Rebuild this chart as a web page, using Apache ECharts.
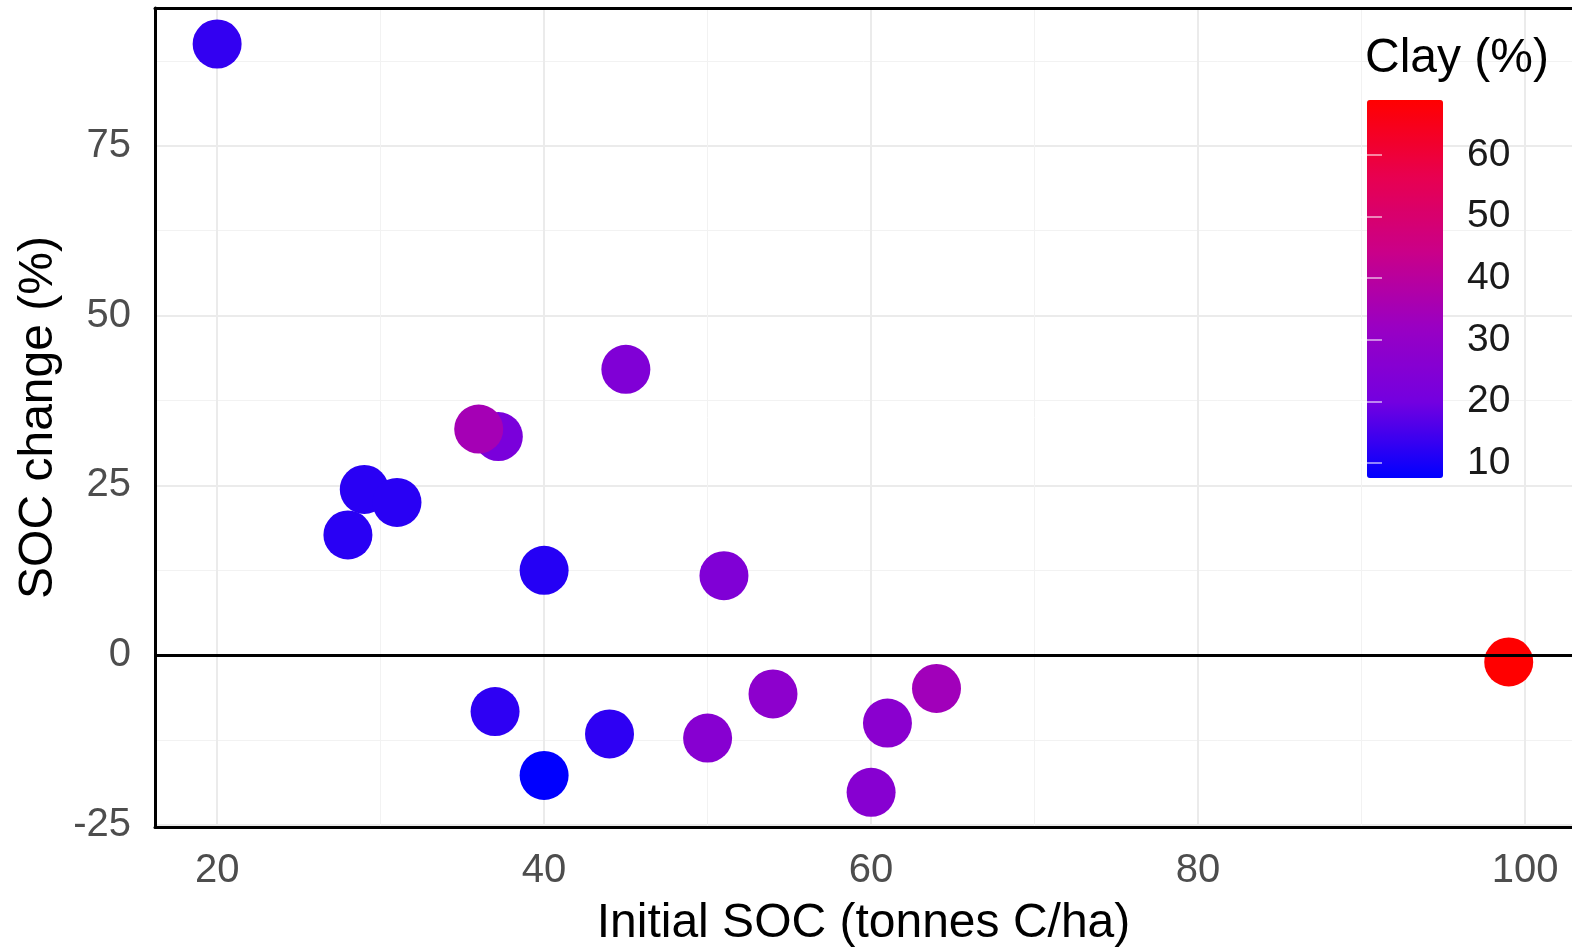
<!DOCTYPE html>
<html>
<head>
<meta charset="utf-8">
<title>SOC change vs initial SOC</title>
<script src="https://cdn.jsdelivr.net/npm/echarts@6/dist/echarts.min.js"></script>
<style>
  html, body { margin: 0; padding: 0; background: #fff; }
  #chart { width: 1572px; height: 948px; }
</style>
</head>
<body>
<div id="chart"></div>
<script>
// values
var initialSoc = [20, 28, 29, 31, 37.2, 36, 45, 40, 51, 99, 37, 40, 44, 50, 54, 60, 61, 64];
var socChange = [90, 17.7, 24.4, 22.5, 32.2, 33.3, 42.1, 12.5, 11.7, -1, -8.3, -17.7, -11.6, -12.2, -5.7, -20.2, -10, -4.9];
var clay = [13, 12, 12, 12, 22, 35, 24, 11.5, 24, 68.9, 12.5, 7.6, 12.5, 26, 28, 26, 27, 34];

var xTicks = [20, 40, 60, 80, 100];
var xMinor = [30, 50, 70, 90];
var yTicks = [-25, 0, 25, 50, 75];
var yMinor = [-12.5, 12.5, 37.5, 62.5, 87.5];
var clayTicks = [10, 20, 30, 40, 50, 60];

// blue -> red, stops approximating ggplot's Lab interpolation
var clayColors = ['#0000ff', '#7300e0', '#9a00c3', '#ca0088', '#e8004f', '#ff0000'];

var points = initialSoc.map(function (x, i) {
  return [x, socChange[i], clay[i]];
});

var font = "'Liberation Sans', Arial, sans-serif";

var chart = echarts.init(document.getElementById('chart'));
chart.setOption({
  animation: false,
  backgroundColor: '#ffffff',
  textStyle: { fontFamily: font },
  title: {
    text: 'Clay (%)',
    left: 1365,
    top: 35,
    padding: 0,
    textStyle: { fontSize: 48, fontWeight: 'normal', color: '#000', fontFamily: font }
  },
  grid: [
    { left: 155, top: 8, right: 0, bottom: 121, outerBoundsMode: 'none' },
    { left: 1367, top: 100, width: 76, height: 378, outerBoundsMode: 'none' }
  ],
  visualMap: {
    type: 'continuous',
    min: 7.6,
    max: 68.9,
    dimension: 2,
    seriesIndex: 0,
    calculable: false,
    orient: 'vertical',
    left: 1367,
    top: 100,
    padding: 0,
    itemWidth: 76,
    itemHeight: 378,
    textStyle: { color: 'rgba(0,0,0,0)' },
    inRange: { color: clayColors }
  },
  xAxis: [{
    type: 'value',
    gridIndex: 0,
    min: 16.2,
    max: 102.87,
    name: 'Initial SOC (tonnes C/ha)',
    nameLocation: 'middle',
    nameGap: 73,
    nameTextStyle: { fontSize: 48, color: '#000' },
    axisLine: { show: true, onZero: false, lineStyle: { color: '#000', width: 3 } },
    axisTick: { show: false, customValues: xTicks },
    axisLabel: { customValues: xTicks, fontSize: 40, color: '#4d4d4d', margin: 24 },
    splitLine: { show: true, lineStyle: { color: '#ebebeb', width: 2 } }
  }, {
    type: 'value',
    gridIndex: 0,
    position: 'top',
    min: 16.2,
    max: 102.87,
    axisLine: { show: true, onZero: false, lineStyle: { color: '#000', width: 3 } },
    axisTick: { show: false, customValues: xMinor },
    axisLabel: { show: false },
    splitLine: { show: true, lineStyle: { color: '#f2f2f2', width: 1 } }
  }, {
    type: 'value',
    gridIndex: 1,
    show: false
  }],
  yAxis: [{
    type: 'value',
    gridIndex: 0,
    min: -25.3,
    max: 95.3,
    name: 'SOC change (%)',
    nameLocation: 'middle',
    nameGap: 92,
    nameTextStyle: { fontSize: 48, color: '#000' },
    axisLine: { show: true, onZero: false, lineStyle: { color: '#000', width: 3 } },
    axisTick: { show: false, customValues: yTicks },
    axisLabel: { customValues: yTicks, fontSize: 40, color: '#4d4d4d', margin: 24 },
    splitLine: { show: true, lineStyle: { color: '#ebebeb', width: 2 } }
  }, {
    type: 'value',
    gridIndex: 0,
    position: 'right',
    min: -25.3,
    max: 95.3,
    axisLine: { show: false },
    axisTick: { show: false, customValues: yMinor },
    axisLabel: { show: false },
    splitLine: { show: true, lineStyle: { color: '#f2f2f2', width: 1 } }
  }, {
    // colour bar labels + right ticks
    type: 'value',
    gridIndex: 1,
    position: 'right',
    min: 7.6,
    max: 68.9,
    z: 10,
    axisLine: { show: false },
    axisTick: { show: true, inside: true, length: 15, customValues: clayTicks, lineStyle: { color: 'rgba(255,255,255,0.7)', width: 1.5 } },
    axisLabel: { customValues: clayTicks, fontSize: 39, color: '#1a1a1a', margin: 24 },
    splitLine: { show: false }
  }, {
    // colour bar left ticks
    type: 'value',
    gridIndex: 1,
    position: 'left',
    min: 7.6,
    max: 68.9,
    z: 10,
    axisLine: { show: false },
    axisTick: { show: true, inside: true, length: 15, customValues: clayTicks, lineStyle: { color: 'rgba(255,255,255,0.7)', width: 1.5 } },
    axisLabel: { show: false },
    splitLine: { show: false }
  }],
  series: [{
    name: 'sites',
    type: 'scatter',
    xAxisIndex: 0,
    yAxisIndex: 0,
    symbol: 'circle',
    symbolSize: 49,
    itemStyle: { opacity: 1 },
    data: points,
    markLine: {
      silent: true,
      symbol: 'none',
      label: { show: false },
      lineStyle: { color: '#000', width: 3, type: 'solid' },
      data: [{ yAxis: 0 }]
    }
  }]
});
</script>
</body>
</html>
